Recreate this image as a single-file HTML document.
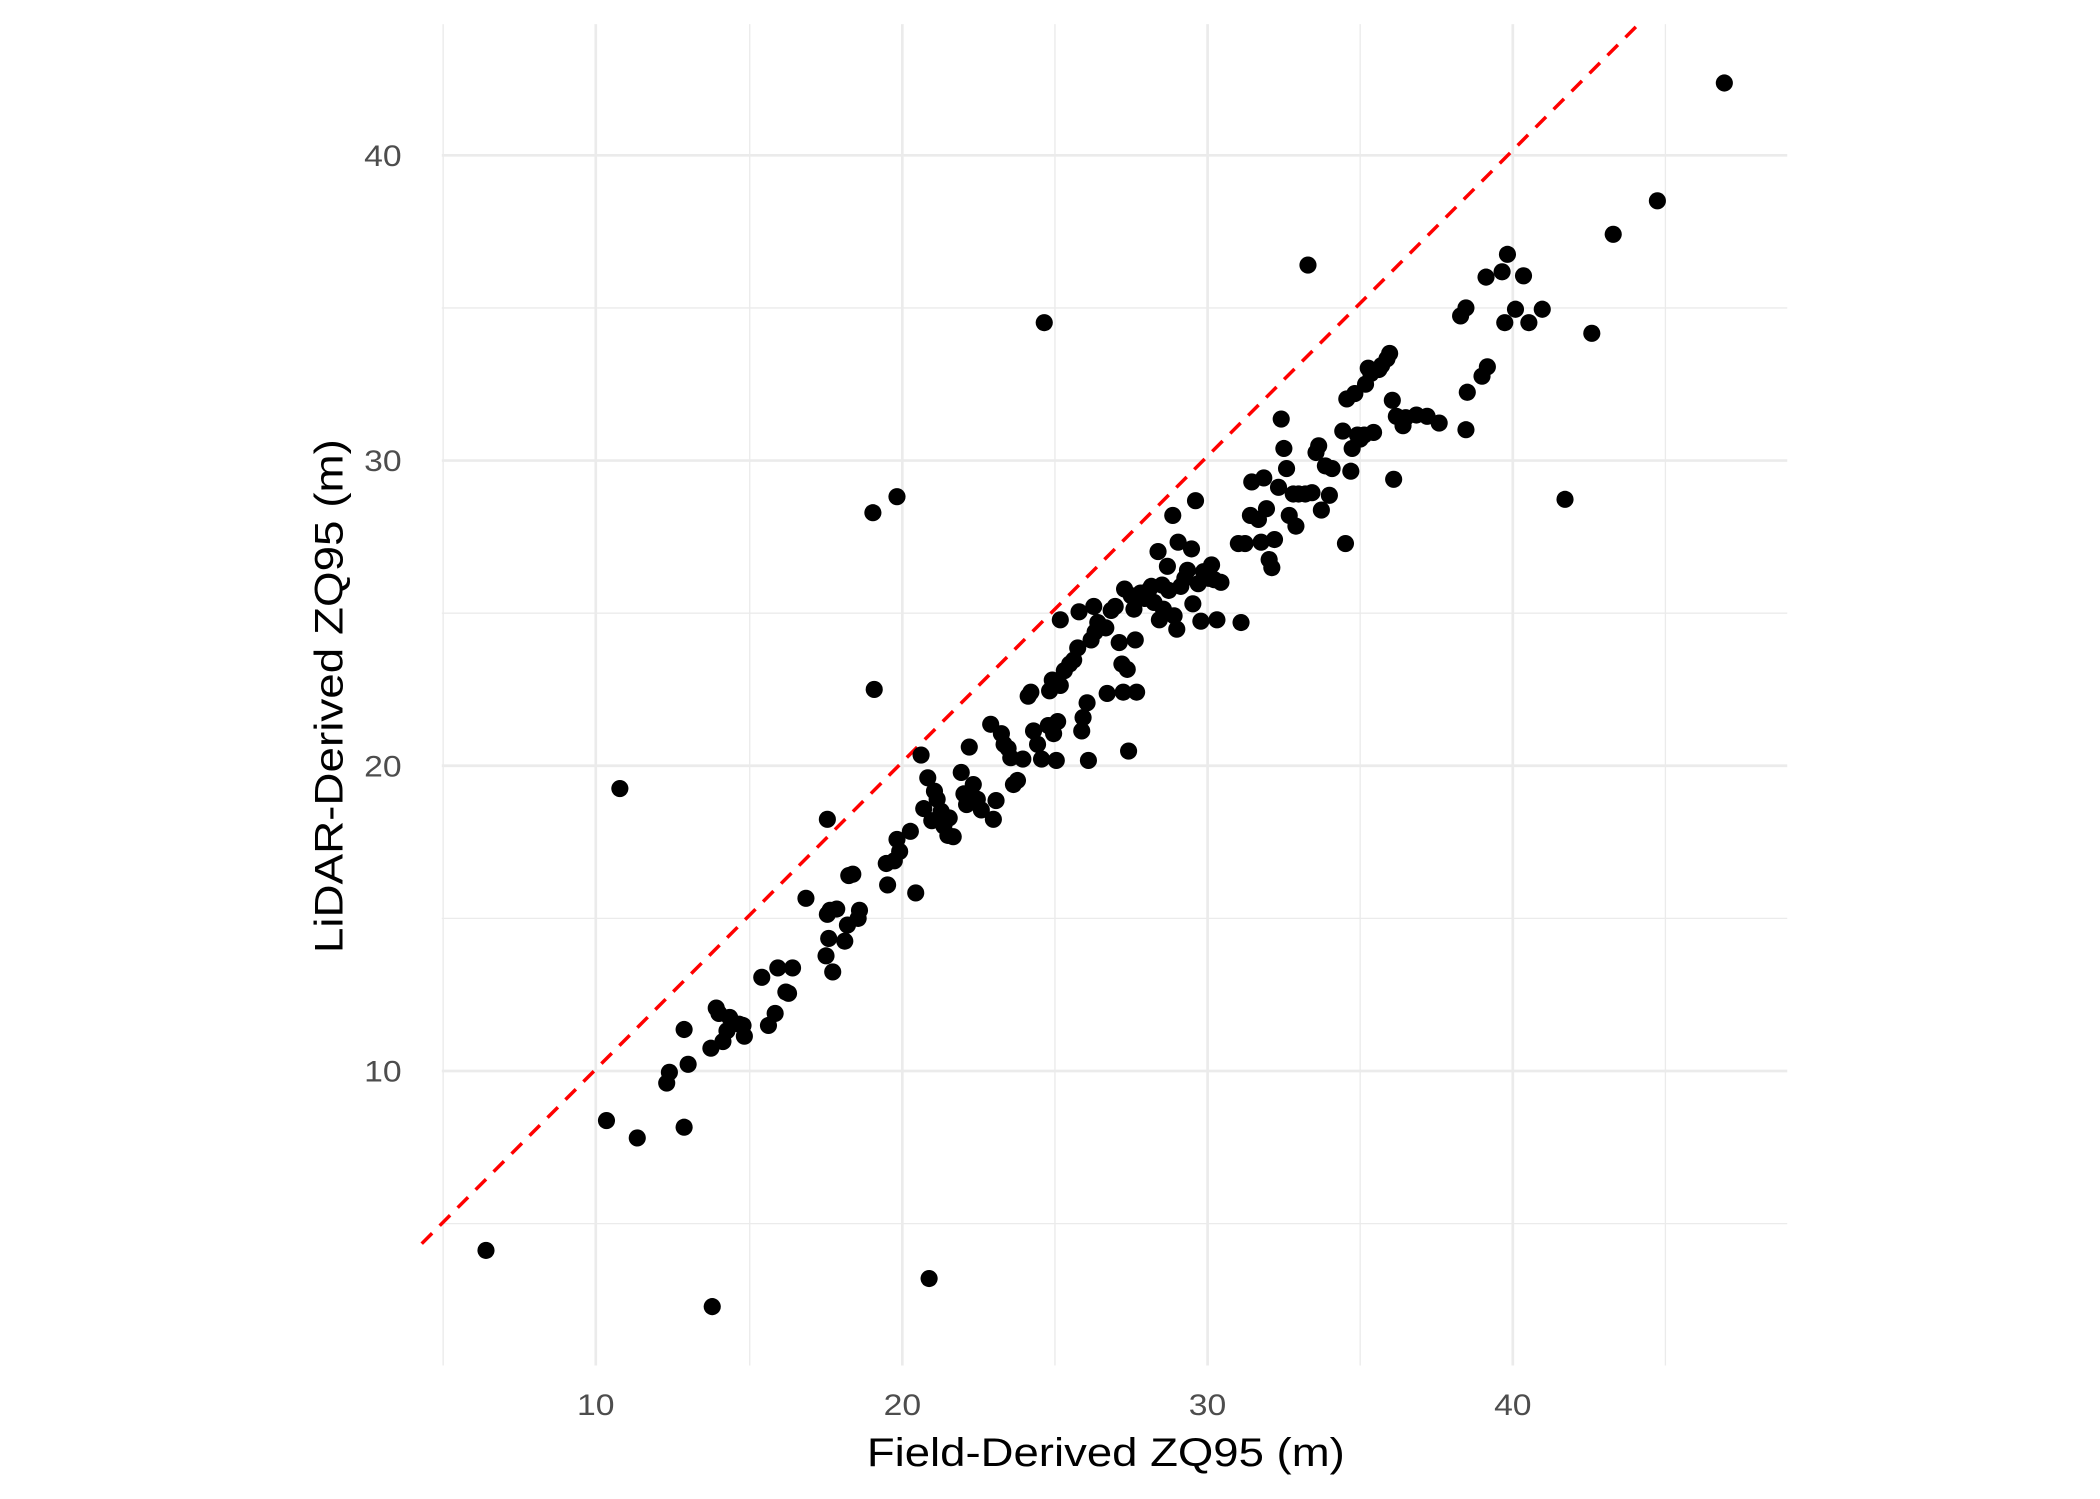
<!DOCTYPE html>
<html><head><meta charset="utf-8"><style>html,body{margin:0;padding:0;background:#fff;}svg{display:block;}</style></head>
<body>
<svg width="2100" height="1499" viewBox="0 0 1568.6 1119.7" xmlns="http://www.w3.org/2000/svg" font-family="Liberation Sans, Arial, sans-serif">
<rect width="1569" height="1120" fill="#fff"/>
<g stroke="#ebebeb" stroke-width="1">
<line x1="330" x2="1335" y1="230" y2="230"/><line x1="330" x2="1335" y1="458" y2="458"/><line x1="330" x2="1335" y1="686" y2="686"/><line x1="330" x2="1335" y1="914" y2="914"/>
<line y1="18" y2="1020" x1="331" x2="331"/><line y1="18" y2="1020" x1="560" x2="560"/><line y1="18" y2="1020" x1="788" x2="788"/><line y1="18" y2="1020" x1="1016" x2="1016"/><line y1="18" y2="1020" x1="1244" x2="1244"/>
</g>
<g stroke="#ebebeb" stroke-width="2">
<line x1="330" x2="1335" y1="116" y2="116"/><line x1="330" x2="1335" y1="344" y2="344"/><line x1="330" x2="1335" y1="572" y2="572"/><line x1="330" x2="1335" y1="800" y2="800"/>
<line y1="18" y2="1020" x1="445" x2="445"/><line y1="18" y2="1020" x1="674" x2="674"/><line y1="18" y2="1020" x1="902" x2="902"/><line y1="18" y2="1020" x1="1130" x2="1130"/>
</g>
<line x1="315" y1="929" x2="1223" y2="19" stroke="#ff0000" stroke-width="2.6" stroke-dasharray="11 8"/>
<g fill="#000" id="pts"></g>
<g fill="#4d4d4d" font-size="22" text-anchor="end">
<text x="300" y="124" textLength="28" lengthAdjust="spacingAndGlyphs">40</text><text x="300" y="352" textLength="28" lengthAdjust="spacingAndGlyphs">30</text><text x="300" y="580" textLength="28" lengthAdjust="spacingAndGlyphs">20</text><text x="300" y="808" textLength="28" lengthAdjust="spacingAndGlyphs">10</text>
</g>
<g fill="#4d4d4d" font-size="22" text-anchor="middle">
<text x="445" y="1057" textLength="28" lengthAdjust="spacingAndGlyphs">10</text><text x="674" y="1057" textLength="28" lengthAdjust="spacingAndGlyphs">20</text><text x="902" y="1057" textLength="28" lengthAdjust="spacingAndGlyphs">30</text><text x="1130" y="1057" textLength="28" lengthAdjust="spacingAndGlyphs">40</text>
</g>
<text x="826" y="1095" font-size="30" text-anchor="middle" fill="#000" textLength="357" lengthAdjust="spacingAndGlyphs">Field-Derived ZQ95 (m)</text>
<text transform="translate(256,520) rotate(-90)" font-size="30" text-anchor="middle" fill="#000" textLength="384" lengthAdjust="spacingAndGlyphs">LiDAR-Derived ZQ95 (m)</text>
</svg>
<script>
var p=[[363,934],[532,976],[694,955],[453,837],[476,850],[511,842],[463,589],[498,809],[500,801],[514,795],[511,769],[531,783],[535,753],[537,757],[543,770],[545,760],[540,778],[552,765],[556,774],[555,766],[569,730],[574,766],[579,757],[581,723],[589,742],[592,723],[587,741],[602,671],[618,683],[617,714],[619,701],[622,726],[625,679],[631,703],[633,691],[634,654],[641,686],[642,680],[637,653],[620,680],[618,612],[652,383],[670,371],[653,515],[662,645],[663,661],[668,643],[672,636],[670,627],[680,621],[684,667],[688,564],[690,604],[693,581],[696,613],[698,591],[700,597],[703,606],[705,617],[708,624],[709,611],[712,625],[718,577],[720,593],[722,601],[724,558],[727,586],[730,597],[733,605],[740,541],[742,612],[744,598],[748,548],[750,556],[753,559],[755,566],[757,586],[760,583],[764,567],[768,520],[770,517],[772,546],[775,556],[778,567],[780,241],[783,542],[784,516],[786,508],[787,548],[789,568],[790,539],[792,463],[792,512],[795,501],[799,496],[802,493],[805,484],[806,457],[808,546],[809,536],[812,525],[813,568],[815,478],[817,453],[818,472],[820,465],[826,469],[827,518],[830,456],[833,453],[836,480],[838,496],[839,517],[840,440],[842,500],[843,561],[845,445],[847,455],[848,478],[849,517],[852,443],[855,447],[858,441],[860,438],[862,450],[865,412],[866,463],[868,437],[869,455],[872,423],[873,441],[876,385],[877,460],[879,470],[880,405],[882,438],[885,432],[887,426],[890,410],[891,451],[893,374],[895,436],[897,464],[899,427],[903,432],[905,422],[907,433],[909,463],[912,435],[925,406],[927,465],[930,406],[934,385],[935,360],[940,388],[942,405],[944,357],[946,380],[948,418],[950,424],[952,403],[955,364],[957,313],[959,335],[961,350],[963,385],[966,369],[968,393],[970,369],[975,369],[977,198],[980,368],[983,338],[985,333],[987,381],[990,348],[993,370],[995,350],[1003,322],[1005,406],[1006,298],[1009,352],[1010,335],[1012,294],[1014,325],[1016,328],[1019,325],[1020,287],[1022,275],[1024,279],[1026,323],[1030,276],[1032,273],[1036,268],[1038,264],[1040,299],[1041,358],[1043,311],[1048,318],[1050,312],[1058,310],[1066,311],[1075,316],[1091,236],[1095,230],[1095,321],[1096,293],[1107,281],[1111,274],[1110,207],[1122,203],[1124,241],[1126,190],[1132,231],[1138,206],[1142,241],[1152,231],[1169,373],[1189,249],[1205,175],[1238,150],[1288,62]];
var g=document.getElementById('pts'),s='';
for(var i=0;i<p.length;i++)s+='<circle cx="'+p[i][0]+'" cy="'+p[i][1]+'" r="6.4"/>';
g.innerHTML=s;
</script>
</body></html>
